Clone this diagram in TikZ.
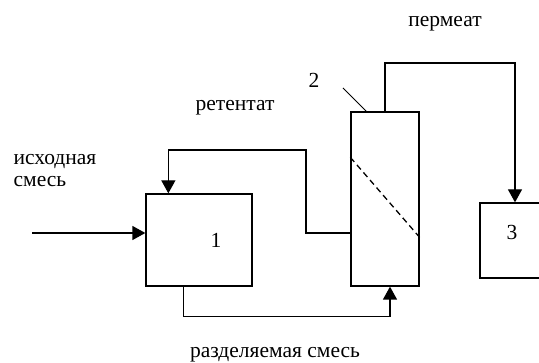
\documentclass[tikz,border=0pt]{standalone}
\usepackage{fontspec}
\setmainfont{Liberation Serif}
\usetikzlibrary{arrows.meta,calc}

\begin{document}
\begin{tikzpicture}[x=1pt,y=-1pt,line width=1.3pt,
    font=\fontsize{21.5}{22}\selectfont,
    >={Triangle[length=13pt,width=14pt]},
    unit/.style={draw,inner sep=0pt}]
      \useasboundingbox (0,0) rectangle (539,363);
      \clip (0,0) rectangle (539,363);
      \node[unit,minimum width=106pt,minimum height=92pt] (b1) at (199,240) {};
      \node[unit,minimum width=68pt,minimum height=174pt] (b2) at (385,199) {};
      \node[unit,minimum width=70pt,minimum height=75pt] (b3) at (515,240.5) {};
      \node[anchor=base] (n1) at (216,248) {1};
      \node[anchor=base] (n2) at (314,88) {2};
      \node[anchor=base] (n3) at (512,240) {3};
      \node[anchor=base west,align=left,inner sep=0pt] (feed) at (13,187) {исходная\\смесь};
      \node[anchor=base] (ret) at (235,111) {ретентат};
      \node[anchor=base] (perm) at (445,27) {пермеат};
      \node[anchor=base] (mix) at (275,358) {разделяемая смесь};
      \coordinate (in) at (32,233);
      \coordinate (r1) at (306,150);
      \coordinate (p1) at (515,63);
      \draw[->] (in) -- (in -| b1.west);
      \draw[->] (in -| b2.west) -| (r1) -| ($(b1.north west)+(23,0)$);
      \draw[->] ($(b1.south west)+(38,0)$) -- ++(0,30) -| ($(b2.south)+(5,0)$);
      \draw[->] (b2.north) |- (p1) -- (b3.north);
      \draw[line width=1pt] (343,88) -- ($(b2.north west)+(16,0)$);
      \draw[dash pattern=on 6pt off 4pt] ($(b2.north west)+(0,46)$) -- ($(b2.north east)+(0,126)$);
\end{tikzpicture}
\end{document}
